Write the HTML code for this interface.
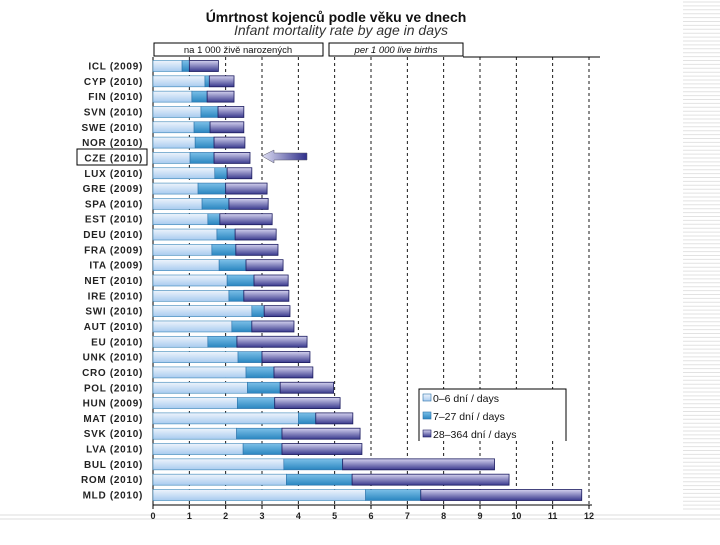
<!DOCTYPE html>
<html><head><meta charset="utf-8"><style>
body{margin:0;background:#fff;width:720px;height:540px;overflow:hidden;font-family:"Liberation Sans",sans-serif}
</style></head><body>
<svg id="c" width="720" height="540" xmlns="http://www.w3.org/2000/svg">
<defs>
<linearGradient id="g1" x1="0" y1="0" x2="0" y2="1"><stop offset="0" stop-color="#eef4fc"/><stop offset="1" stop-color="#a8cbef"/></linearGradient>
<linearGradient id="g2" x1="0" y1="0" x2="0" y2="1"><stop offset="0" stop-color="#7cc0e8"/><stop offset="1" stop-color="#2a86c0"/></linearGradient>
<linearGradient id="g3" x1="0" y1="0" x2="0" y2="1"><stop offset="0" stop-color="#d4d2ef"/><stop offset="1" stop-color="#3a3a8e"/></linearGradient>
<linearGradient id="ga" x1="0" y1="0" x2="1" y2="0"><stop offset="0" stop-color="#e0e0f4"/><stop offset="1" stop-color="#2e2e8a"/></linearGradient>
</defs>
<g id="stripes"></g>
<line x1="0" y1="515" x2="720" y2="515" stroke="#ddd"/>
<line x1="0" y1="519" x2="720" y2="519" stroke="#ddd"/>
<text x="336" y="22" text-anchor="middle" font-size="14" font-weight="bold" fill="#111">Úmrtnost kojenců podle věku ve dnech</text>
<text x="341" y="35" text-anchor="middle" font-size="14" font-style="italic" fill="#333">Infant mortality rate by age in days</text>
<rect x="154" y="43" width="169" height="13" fill="#fff" stroke="#000"/>
<text x="238" y="53" text-anchor="middle" font-size="9.5" fill="#111">na 1 000 živě narozených</text>
<rect x="329" y="43" width="134" height="13" fill="#fff" stroke="#000"/>
<text x="396" y="53" text-anchor="middle" font-size="9.5" font-style="italic" fill="#111">per 1 000 live births</text>
<line x1="463" y1="57" x2="600" y2="57" stroke="#000"/>
<g id="grid"></g><g id="bars"></g><g id="labels"></g>
<rect x="77" y="149" width="70" height="16" fill="none" stroke="#000"/>
<polygon points="262,156 274,150 274,153 307,153 307,160 274,160 274,163" fill="url(#ga)" stroke="#556" stroke-width="0.5"/>
<path d="M419,441 V389 H566 V441" fill="#fff" stroke="#000"/>
<g><rect x="423" y="394" width="8" height="7" fill="url(#g1)" stroke="#2a70a8" stroke-width="0.6"/><text x="433" y="402" font-size="10.5" fill="#111">0–6 dní / days</text></g>
<g><rect x="423" y="412" width="8" height="7" fill="url(#g2)" stroke="#2a70a8" stroke-width="0.6"/><text x="433" y="420" font-size="10.5" fill="#111">7–27 dní / days</text></g>
<g><rect x="423" y="430" width="8" height="7" fill="url(#g3)" stroke="#1c1c60" stroke-width="0.6"/><text x="433" y="438" font-size="10.5" fill="#111">28–364 dní / days</text></g>
</svg>
<script>
const categories=["ICL (2009)","CYP (2010)","FIN (2010)","SVN (2010)","SWE (2010)","NOR (2010)","CZE (2010)","LUX (2010)","GRE (2009)","SPA (2010)","EST (2010)","DEU (2010)","FRA (2009)","ITA (2009)","NET (2010)","IRE (2010)","SWI (2010)","AUT (2010)","EU (2010)","UNK (2010)","CRO (2010)","POL (2010)","HUN (2009)","MAT (2010)","SVK (2010)","LVA (2010)","BUL (2010)","ROM (2010)","MLD (2010)"];
const days0to6=[0.8,1.43,1.07,1.32,1.13,1.16,1.02,1.7,1.24,1.35,1.51,1.76,1.62,1.82,2.04,2.09,2.72,2.17,1.51,2.34,2.56,2.6,2.32,4.0,2.3,2.48,3.6,3.67,5.85];
const days7to27=[0.2,0.12,0.42,0.47,0.44,0.52,0.66,0.34,0.76,0.74,0.33,0.5,0.66,0.74,0.74,0.41,0.34,0.55,0.8,0.66,0.77,0.9,1.03,0.48,1.25,1.07,1.62,1.81,1.52];
const days28to364=[0.8,0.68,0.74,0.71,0.93,0.85,0.99,0.68,1.14,1.08,1.44,1.13,1.16,1.02,0.94,1.24,0.71,1.16,1.93,1.32,1.07,1.47,1.8,1.02,2.15,2.2,4.18,4.32,4.43];
const xTicks=["0","1","2","3","4","5","6","7","8","9","10","11","12"];
const NS="http://www.w3.org/2000/svg";
const x=v=>153+v*(589-153)/12;
const y=i=>66+i*(495-66)/28;
function mk(t,a,p){const e=document.createElementNS(NS,t);for(const k in a)e.setAttribute(k,a[k]);p.appendChild(e);return e;}
const st=document.getElementById('stripes');
for(let yy=2;yy<512;yy+=3.9){const l=mk('line',{x1:683,y1:yy,x2:720,y2:yy,stroke:'#e2e2e2'},st);

}
const grid=document.getElementById('grid');
xTicks.forEach((t,i)=>{
 if(i>0){const g=mk('line',{x1:x(i),y1:57,x2:x(i),y2:505,stroke:'#000','stroke-dasharray':'3,3','stroke-width':0.9},grid);
 
 }
 const tk=mk('line',{x1:x(i),y1:505,x2:x(i),y2:509,stroke:'#000'},grid);
 
 
 const tl=mk('text',{x:x(i),y:519,'text-anchor':'middle','font-size':9,'font-weight':'bold',fill:'#222'},grid);
 tl.textContent=t;
 
 
});
const ax=mk('line',{x1:153,y1:57,x2:153,y2:505,stroke:'#000'},grid);


const bx=mk('line',{x1:153,y1:505,x2:592,y2:505,stroke:'#000'},grid);


const bars=document.getElementById('bars'),labs=document.getElementById('labels');
categories.forEach((c,i)=>{
 const a=days0to6[i],b=a+days7to27[i],t=b+days28to364[i],yy=y(i)-5.5,h=11;
 const r1=mk('rect',{x:x(0),y:yy,width:x(a)-x(0),height:h,fill:'url(#g1)',stroke:'#3a86b8','stroke-width':0.6},bars);
 
 
 const r2=mk('rect',{x:x(a),y:yy,width:x(b)-x(a),height:h,fill:'url(#g2)',stroke:'#2a70a8','stroke-width':0.6},bars);
 
 
 const r3=mk('rect',{x:x(b),y:yy,width:x(t)-x(b),height:h,fill:'url(#g3)',stroke:'#1c1c60','stroke-width':0.8},bars);
 
 
 const l=mk('text',{x:143,y:y(i)+3.5,'text-anchor':'end','font-size':10,'font-weight':'bold','letter-spacing':0.7,fill:'#222'},labs);
 l.textContent=c;
 
 
});
</script>
</body></html>
